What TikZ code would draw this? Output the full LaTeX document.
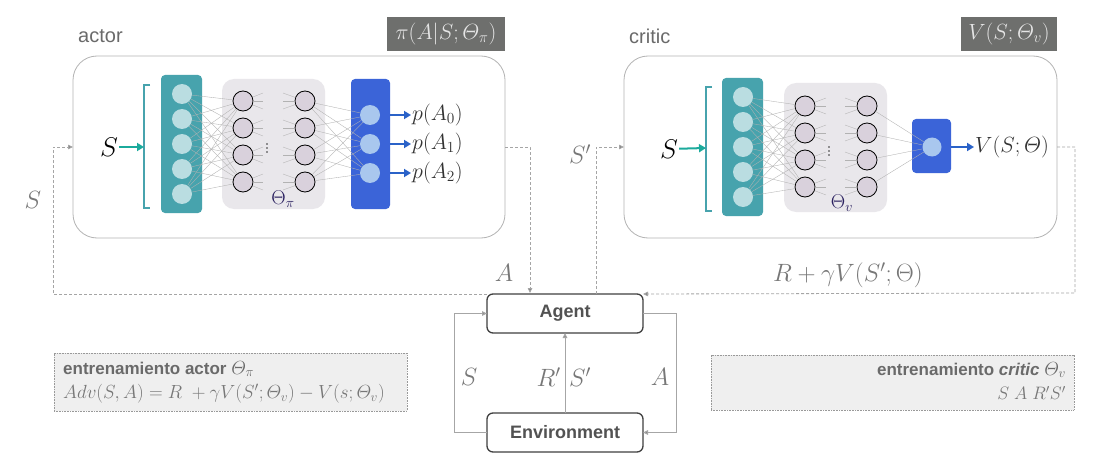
\documentclass[tikz,border=0pt]{standalone}
\usepackage{fix-cm}
\usepackage{amsmath}
\usepackage[no-math]{fontspec}
\setmainfont{Liberation Sans}
\usetikzlibrary{arrows.meta}
\definecolor{tealbox}{HTML}{47A3AD}
\definecolor{tealcirc}{HTML}{BADDE1}
\definecolor{tealarr}{HTML}{1BAA9C}
\definecolor{hidbox}{HTML}{E9E7EB}
\definecolor{hidcirc}{HTML}{D9D1DC}
\definecolor{bluebox}{HTML}{3B64D8}
\definecolor{bluecirc}{HTML}{A9C7EE}
\definecolor{bluearr}{HTML}{2A62C8}
\definecolor{framegray}{HTML}{B3B3B3}
\definecolor{darkbox}{HTML}{6E6F6D}
\definecolor{labgray}{HTML}{777777}
\definecolor{txtgray}{HTML}{6A6A6A}
\definecolor{dashgray}{HTML}{A5A5A5}
\definecolor{tipgray}{HTML}{858585}
\definecolor{navy}{HTML}{2B2160}
\definecolor{notefill}{HTML}{EFEFEF}
\tikzset{
  fs/.style={font=\fontsize{#1}{#1}\selectfont},
  frame/.style={draw=framegray, line width=0.8pt, rounded corners=24, fill=white, outer sep=0pt, inner sep=0pt},
  titlebox/.style={fill=darkbox, text=white!90!black, inner sep=0pt, outer sep=0pt, fs=22},
  tealrect/.style={fill=tealbox, rounded corners=4, inner sep=0pt},
  hidrect/.style={fill=hidbox, rounded corners=12, inner sep=0pt},
  bluerect/.style={fill=bluebox, rounded corners=4, inner sep=0pt},
  tcirc/.style={circle, fill=tealcirc, minimum size=20, inner sep=0pt},
  hcirc/.style={circle, fill=hidcirc, draw=black, line width=0.8pt, minimum size=20, inner sep=0pt},
  bcirc/.style={circle, fill=bluecirc, minimum size=20, inner sep=0pt},
  tinydot/.style={circle, fill=black!80, minimum size=1.6, inner sep=0pt},
  conn/.style={draw=black!30, line width=0.35pt},
  tealarrow/.style={draw=tealarr, line width=2pt, -{Triangle[length=7pt,width=8pt]}},
  bluearrow/.style={draw=bluearr, line width=2pt, -{Triangle[length=7pt,width=8pt]}},
  dline/.style={draw=dashgray, line width=0.8pt, dash pattern=on 3pt off 2pt, -{Triangle[length=5pt,width=4.5pt,fill=tipgray]}},
  sline/.style={draw=black!35, line width=1pt, -{Triangle[length=5pt,width=4.5pt,fill=tipgray]}},
  lbl/.style={text=labgray, fs=25, inner sep=0pt},
  envbox/.style={draw=black!75, line width=1.3pt, rounded corners=6, fill=white, minimum width=156, minimum height=39, inner sep=0pt, outer sep=0pt, text=black!68, font=\bfseries\fontsize{18}{18}\selectfont},
  note/.style={draw=black!40, dash pattern=on 1pt off 0.6pt, line width=0.6pt, fill=notefill, inner sep=0pt},
  ntxt/.style={text=txtgray, inner sep=0pt},
  netlbl/.style={fs=22, text=black!80, inner sep=1pt}
}
\begin{document}
\begin{tikzpicture}[x=1pt,y=-1pt]
\useasboundingbox[fill=white] (0,0) rectangle (1113,468);

% ================= ACTOR =================
\node[text=txtgray, fs=20, anchor=west, inner sep=0pt] (actorlbl) at (78,36) {actor};
\node[titlebox, minimum width=118, minimum height=34] (pibox) at (446,34) {$\pi(A|S;\varTheta_\pi)$};
\node[frame, minimum width=432, minimum height=182] (actor) at (289,147) {};

\node[tealrect, minimum width=41, minimum height=138] (ain) at (181.5,144) {};
\node[hidrect, minimum width=103, minimum height=130] (ahid) at (273.5,144) {};
\node[bluerect, minimum width=39, minimum height=130] (aout) at (370.5,144) {};

\foreach \i/\y in {1/94,2/119,3/144,4/169,5/194} \node[tcirc] (ai\i) at (182,\y) {};
\foreach \j/\y in {1/101,2/128,3/155,4/182} {
  \node[hcirc] (ah\j) at (243,\y) {};
  \node[hcirc] (ak\j) at (305,\y) {};
}
\foreach \k/\y in {1/115,2/144,3/173} \node[bcirc] (ao\k) at (370,\y) {};

\foreach \i in {1,...,5} \foreach \j in {1,...,4} \draw[conn] (ai\i) -- (ah\j);
\foreach \j/\y in {1/101,2/128,3/155,4/182} {
  \foreach \d in {-8,0,8} {
    \draw[conn] (ah\j) -- (263,\y+\d);
    \draw[conn] (283,\y+\d) -- (ak\j);
  }
}
\foreach \j in {1,...,4} \foreach \k in {1,...,3} \draw[conn] (ak\j) -- (ao\k);
\foreach \n/\y in {1/144,2/148,3/152} \node[tinydot] (ad\n) at (267,\y) {};
\node[fs=20, text=navy, inner sep=0pt] (athe) at (283,199) {$\Theta_\pi$};

\draw[tealbox, line width=1.5pt] (150,85) -- (144,85) -- (144,208) -- (150,208);
\coordinate (abr) at (144,147);
\node[fs=27, inner sep=1pt] (aS) at (109,147) {$S$};
\draw[tealarrow] (aS) -- (abr);

\node[netlbl, anchor=west] (p0) at (411,115) {$p(A_0)$};
\node[netlbl, anchor=west] (p1) at (411,144) {$p(A_1)$};
\node[netlbl, anchor=west] (p2) at (411,173) {$p(A_2)$};
\draw[bluearrow] (ao1 -| aout.east) -- (p0.west);
\draw[bluearrow] (ao2 -| aout.east) -- (p1.west);
\draw[bluearrow] (ao3 -| aout.east) -- (p2.west);

% ================= CRITIC =================
\node[text=txtgray, fs=20, anchor=west, inner sep=0pt] (criticlbl) at (629,36) {critic};
\node[titlebox, minimum width=96, minimum height=34] (vbox) at (1009,34) {$V(S;\varTheta_v)$};
\node[frame, minimum width=433, minimum height=182] (critic) at (840.5,147) {};

\node[tealrect, minimum width=41, minimum height=138] (cin) at (742.5,147) {};
\node[hidrect, minimum width=103, minimum height=129] (chid) at (835.5,147.5) {};
\node[bluerect, minimum width=39, minimum height=54] (cout) at (931.5,146) {};

\foreach \i/\y in {1/97,2/122,3/147,4/172,5/197} \node[tcirc] (ci\i) at (743,\y) {};
\foreach \j/\y in {1/106,2/133,3/160,4/187} {
  \node[hcirc] (ch\j) at (805,\y) {};
  \node[hcirc] (ck\j) at (867,\y) {};
}
\node[bcirc, minimum size=19] (co) at (932,147) {};

\foreach \i in {1,...,5} \foreach \j in {1,...,4} \draw[conn] (ci\i) -- (ch\j);
\foreach \j/\y in {1/106,2/133,3/160,4/187} {
  \foreach \d in {-8,0,8} {
    \draw[conn] (ch\j) -- (826,\y+\d);
    \draw[conn] (845,\y+\d) -- (ck\j);
  }
}
\foreach \j in {1,...,4} \draw[conn] (ck\j) -- (co);
\foreach \n/\y in {1/147,2/151,3/155} \node[tinydot] (cd\n) at (829,\y) {};
\node[fs=20, text=navy, inner sep=0pt] (cthe) at (842,203) {$\Theta_v$};

\draw[tealbox, line width=1.5pt] (712,87) -- (706,87) -- (706,211) -- (712,211);
\coordinate (cbr) at (706,148);
\node[fs=27, inner sep=1pt] (cS) at (669,149) {$S$};
\draw[tealarrow] (cS) -- (cbr);

\node[netlbl, anchor=west] (vout) at (974,147) {$V(S;\varTheta)$};
\draw[bluearrow] (co -| cout.east) -- (vout.west);

% ================= AGENT / ENVIRONMENT =================
\node[envbox] (agent) at (565,313.5) {Agent};
\node[envbox] (env) at (565,432.5) {Environment};

\draw[sline] (env.west) -- (454,432.5) -- (454,313.5) -- (agent.west);
\draw[sline] (env.north) -- (agent.south);
\draw[sline] (agent.east) -- (676,313.5) -- (676,432.5) -- (env.east);
\node[lbl] (eS) at (469,377) {$S$};
\node[lbl, anchor=east] (eR) at (561,377) {$R'$};
\node[lbl, anchor=west] (eSp) at (569,377) {$S'$};
\node[lbl] (eA) at (660,377) {$A$};

% ================= DASHED LOOPS =================
\draw[dline] (actor.east) -- (530,147) -- (530,293);
\node[lbl] (lA) at (504,273) {$A$};
\draw[dline] (agent.north west) -- (53,294) -- (53,147) -- (actor.west);
\node[lbl] (lS) at (33,200) {$S$};
\draw[dline] (596,294) -- (596,147) -- (critic.west);
\node[lbl] (lSp) at (580,154) {$S'$};
\draw[dline] (critic.east) -- (1075,147) -- (1075,293) -- (agent.north east);
\node[lbl] (lR) at (848,275) {$R+\gamma V(S';\Theta)$};

% ================= NOTES =================
\node[note, minimum width=353, minimum height=58] (nleft) at (230.5,382) {};
\node[ntxt, anchor=west, font=\bfseries\fontsize{17}{17}\selectfont] (nl1) at (63,369) {entrenamiento actor \mdseries\fontsize{19}{19}\selectfont$\varTheta_\pi$};
\node[ntxt, anchor=west, fs=19, text=labgray] (nl2) at (63,394) {$Adv(S,A)=R\ +\gamma V(S';\varTheta_v)-V(s;\varTheta_v)$};

\node[note, minimum width=363, minimum height=55] (nright) at (892.5,382.5) {};
\node[ntxt, anchor=east, font=\bfseries\fontsize{17}{17}\selectfont] (nr1) at (1066,370) {entrenamiento \textit{critic} \mdseries\fontsize{19}{19}\selectfont$\varTheta_v$};
\node[ntxt, anchor=east, fs=18, text=labgray] (nr2) at (1066,393) {$S\;A\;R'S'$};
\end{tikzpicture}
\end{document}
